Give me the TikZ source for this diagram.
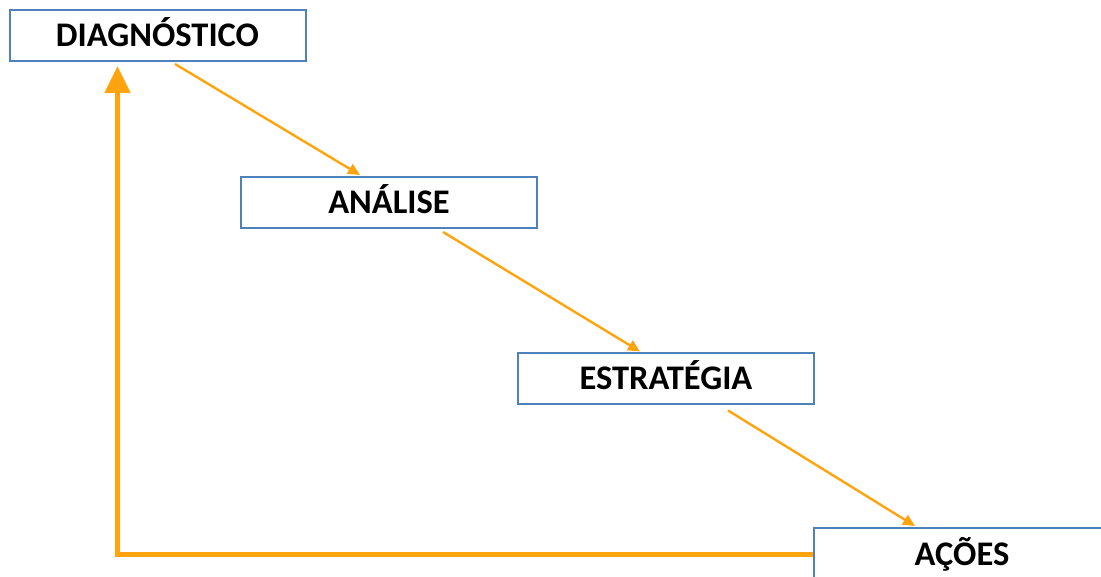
\documentclass[tikz,border=0pt]{standalone}
\usepackage{fontspec}
\setmainfont{Carlito}
\usetikzlibrary{arrows.meta,calc}
\definecolor{boxblue}{RGB}{79,129,189}
\definecolor{arrorange}{RGB}{255,163,15}
\tikzset{
  stepbox/.style={draw=boxblue,line width=2pt,fill=white,minimum width=296pt,minimum height=51pt,inner sep=0pt,text height=22pt,text depth=0pt,font=\bfseries\fontsize{34.5}{38}\selectfont,text=black},
  thinarrow/.style={draw=arrorange,line width=2.4pt,-{Triangle[length=12pt,width=11pt]}},
  thickarrow/.style={draw=arrorange,line width=5pt,-{Triangle[length=27pt,width=25pt]}}
}
\begin{document}
\begin{tikzpicture}[x=1pt,y=-1pt]
\useasboundingbox (0,0) rectangle (1101,577);
\clip (0,0) rectangle (1101,577);
\node[stepbox] (diag) at (157.5,35.5) {DIAGNÓSTICO};
\node[stepbox] (anal) at (389,202.5) {ANÁLISE};
\node[stepbox] (estr) at (666,379) {ESTRATÉGIA};
\node[stepbox,minimum height=52pt] (acoes) at (962,554) {AÇÕES};
\coordinate (corner) at (117.5,554);
\draw[thinarrow] ([shift={(17.5,2)}]diag.south) -- ([xshift=-29pt,yshift=1pt]anal.north);
\draw[thinarrow] ([shift={(54,3)}]anal.south) -- ([xshift=-26pt,yshift=1pt]estr.north);
\draw[thinarrow] ([shift={(62,5)}]estr.south) -- ([xshift=-47pt,yshift=1pt]acoes.north);
\draw[thickarrow] (acoes.west) -- (corner) -- ([yshift=-4pt]corner |- diag.south);
\end{tikzpicture}
\end{document}
